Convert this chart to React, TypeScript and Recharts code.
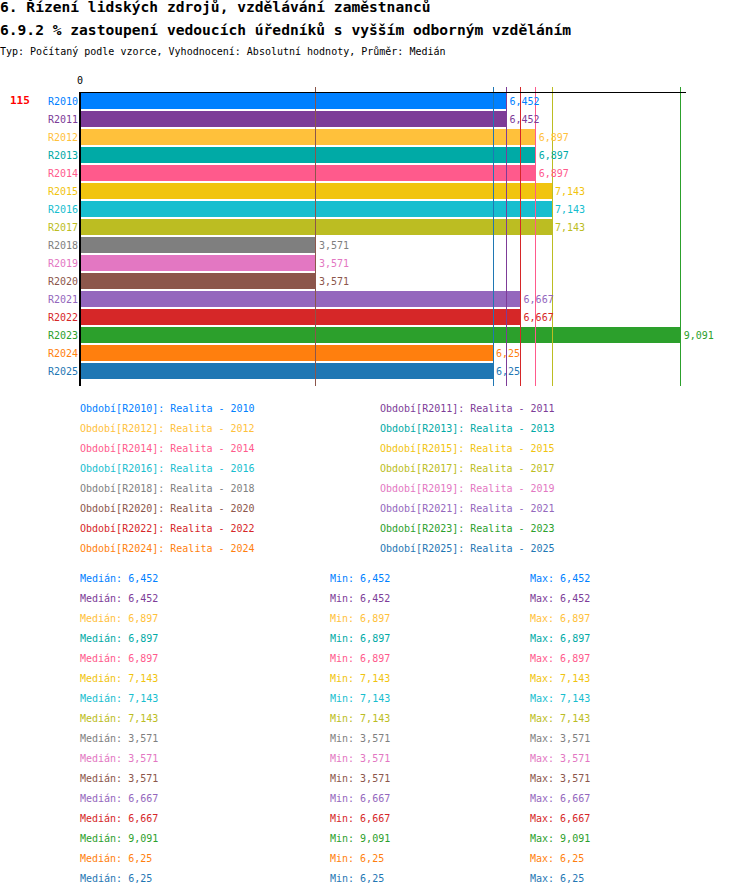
import React from "react";
import { Bar, BarChart, Cell, LabelList, ReferenceLine, XAxis, YAxis } from "recharts";

const categories = [
  "R2010", "R2011", "R2012", "R2013", "R2014", "R2015", "R2016", "R2017",
  "R2018", "R2019", "R2020", "R2021", "R2022", "R2023", "R2024", "R2025"
];
const values = [
  6.452, 6.452, 6.897, 6.897, 6.897, 7.143, 7.143, 7.143,
  3.571, 3.571, 3.571, 6.667, 6.667, 9.091, 6.25, 6.25
];
const colors = [
  "#0080ff", "#7d3c98", "#ffc13b", "#00aaa6", "#ff5a8c", "#f1c40f", "#17becf", "#bcbd22",
  "#7f7f7f", "#e377c2", "#8c564b", "#9467bd", "#d62728", "#2ca02c", "#ff7f0e", "#1f77b4"
];
const xTicks = [0];
const countLabel = "115";

const FONT = "'DejaVu Sans Mono', monospace";

const data = categories.map((name, i) => ({ name, value: values[i], color: colors[i] }));

const fmt = (v: number) => String(v).replace(".", ",");

function CategoryTick(props: any) {
  const { x, y, payload, index } = props;
  return (
    <text x={x} y={y} dy="0.35em" textAnchor="end" fontSize={10} fontFamily={FONT} fill={colors[index]}>
      {payload.value}
    </text>
  );
}

function ValueLabel(props: any) {
  const { x, y, width, height, value, index } = props;
  return (
    <text
      x={Number(x) + Number(width) + 3}
      y={Number(y) + Number(height) / 2}
      dy="0.35em"
      fontSize={10}
      fontFamily={FONT}
      fill={colors[index]}
    >
      {fmt(Number(value))}
    </text>
  );
}

// median lines poke a few px above the top axis, like the original
function VLine(props: any) {
  const { x1, x2, y1, y2, stroke } = props;
  return (
    <line
      x1={x1}
      x2={x2}
      y1={Math.min(y1, y2) - 5}
      y2={Math.max(y1, y2)}
      stroke={stroke}
      strokeWidth={1}
      shapeRendering="crispEdges"
    />
  );
}

export default function App() {
  return (
    <div style={{ position: "absolute", left: 0, top: 0, width: 750, height: 896, fontFamily: FONT, background: "#fff" }}>
      <BarChart
        width={750}
        height={390}
        data={data}
        layout="vertical"
        margin={{ top: 80, right: 64, bottom: 4, left: 0 }}
        style={{ position: "absolute", left: 0, top: 0 }}
      >
        <XAxis
          type="number"
          orientation="top"
          domain={[0, 9.17]}
          ticks={xTicks}
          height={12}
          axisLine={{ stroke: "#000", shapeRendering: "crispEdges" }}
          tickLine={false}
          tickMargin={2}
          tick={{ fontSize: 10, fill: "#000", fontFamily: FONT }}
        />
        <YAxis
          type="category"
          dataKey="name"
          width={80}
          interval={0}
          axisLine={{ stroke: "#000", strokeWidth: 2, shapeRendering: "crispEdges" }}
          tickLine={false}
          tickSize={0}
          tickMargin={2}
          padding={{ top: 0, bottom: 6 }}
          tick={<CategoryTick />}
        />
        <Bar dataKey="value" barSize={16} isAnimationActive={false}>
          {data.map((d) => (
            <Cell key={d.name} fill={d.color} shapeRendering="crispEdges" />
          ))}
          <LabelList dataKey="value" content={<ValueLabel />} />
        </Bar>
        {data.map((d) => (
          <ReferenceLine key={"ref-" + d.name} x={d.value} stroke={d.color} shape={VLine} />
        ))}
      </BarChart>

      <div style={{ position: "absolute", left: 0, top: -2.7, fontSize: 14.6, lineHeight: "20px", fontWeight: "bold", whiteSpace: "nowrap" }}>
        6. Řízení lidských zdrojů, vzdělávání zaměstnanců
      </div>
      <div style={{ position: "absolute", left: 0, top: 20, fontSize: 14.6, lineHeight: "20px", fontWeight: "bold", whiteSpace: "nowrap" }}>
        6.9.2 % zastoupení vedoucích úředníků s vyšším odborným vzděláním
      </div>
      <div style={{ position: "absolute", left: 0, top: 41.5, fontSize: 10, lineHeight: "20px", whiteSpace: "nowrap" }}>
        Typ: Počítaný podle vzorce, Vyhodnocení: Absolutní hodnoty, Průměr: Medián
      </div>
      <div style={{ position: "absolute", left: 10, top: 90.5, fontSize: 11, lineHeight: "20px", fontWeight: "bold", color: "#ff0000" }}>
        {countLabel}
      </div>

      {data.map((d, i) => (
        <div
          key={"lg-" + d.name}
          style={{
            position: "absolute",
            left: i % 2 === 0 ? 80 : 380,
            top: 398.5 + Math.floor(i / 2) * 20,
            fontSize: 10,
            lineHeight: "20px",
            color: d.color,
            whiteSpace: "nowrap"
          }}
        >
          {`Období[${d.name}]: Realita - ${d.name.slice(1)}`}
        </div>
      ))}

      {data.map((d, i) => (
        <React.Fragment key={"st-" + d.name}>
          {[
            { left: 80, text: `Medián: ${fmt(d.value)}` },
            { left: 330, text: `Min: ${fmt(d.value)}` },
            { left: 530, text: `Max: ${fmt(d.value)}` }
          ].map((c) => (
            <div
              key={c.left}
              style={{
                position: "absolute",
                left: c.left,
                top: 568.5 + i * 20,
                fontSize: 10,
                lineHeight: "20px",
                color: d.color,
                whiteSpace: "nowrap"
              }}
            >
              {c.text}
            </div>
          ))}
        </React.Fragment>
      ))}
    </div>
  );
}
